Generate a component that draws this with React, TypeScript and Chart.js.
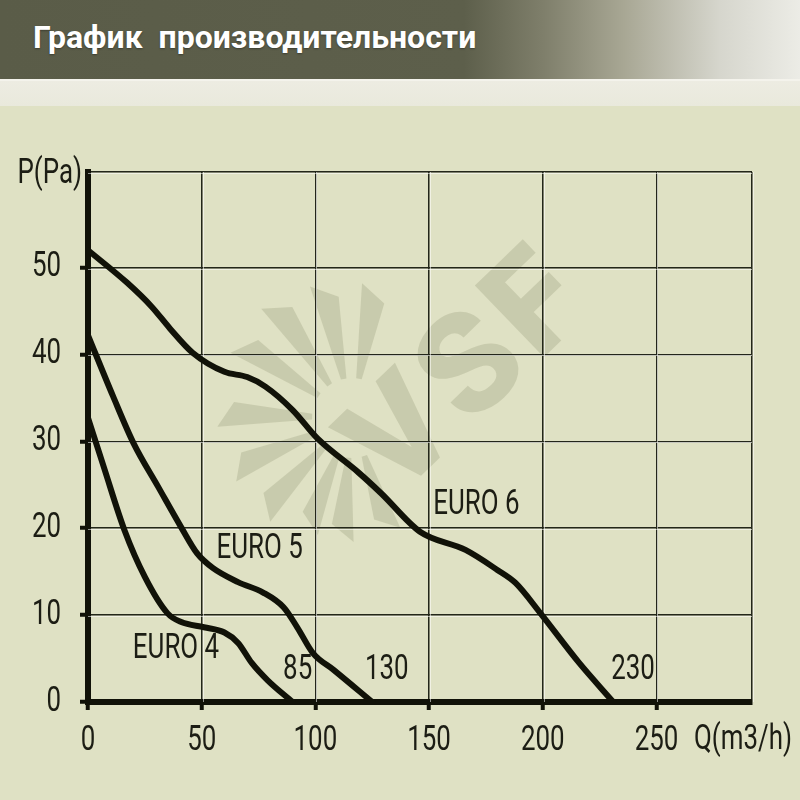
import React, { useEffect, useRef } from "react";
import { Chart, registerables } from "chart.js";

Chart.register(...registerables);

// ---- data ----
const xTicks = [0, 50, 100, 150, 200, 250];
const yTicks = [0, 10, 20, 30, 40, 50];
const X_MAX = 292;
const Y_MAX = 61;

const euro6Q = [0, 17, 28, 36, 46, 60, 70, 78, 90, 101, 119, 129, 146, 166, 180, 188, 199, 216, 231];
const euro6P = [52, 48.3, 45.5, 43, 40.2, 38, 37.4, 36.3, 33.6, 30.3, 26.4, 24, 19.6, 17.5, 15.2, 13.7, 10.2, 4.5, 0];

const euro5Q = [0, 11, 20, 31, 41, 48, 55, 66, 77, 86, 92, 99, 108, 125];
const euro5P = [42.2, 35.2, 29.8, 24.7, 20.1, 17.1, 15.4, 13.8, 12.6, 10.9, 8.6, 5.6, 3.7, 0];

const euro4Q = [0, 7, 16, 25, 35, 41, 51, 60, 66, 72, 79, 90];
const euro4P = [32.7, 27, 19.8, 14.4, 10.2, 9.2, 8.6, 8.0, 6.8, 4.5, 2.5, 0];

const curveLabelText = ["EURO 4", "EURO 5", "EURO 6", "85", "130", "230"];
const curveLabelQ = [38.7, 75.5, 170.8, 92.2, 131.4, 239.7];
const curveLabelP = [6.1, 17.6, 22.6, 3.7, 3.6, 3.7];

const TITLE = "График  производительности";
const Y_TITLE = "P(Pa)";
const X_TITLE = "Q(m3/h)";
const WATERMARK = "VSF";

// ---- style ----
const FONT = "Roboto, 'Noto Sans', sans-serif";
const FONT_SIZE = 35;
const SQUEEZE = 0.74;
const BG = "#dfe1c4";
const TEXT = "#1c1d14";
const AXIS = "#111208";
const GRID = "#23261a";
const WM = "rgba(150,152,118,0.30)";

const toPts = (qs: number[], ps: number[]) => qs.map((q, i) => ({ x: q, y: ps[i] }));

function drawNarrow(ctx: CanvasRenderingContext2D, text: string, x: number, y: number, align: CanvasTextAlign) {
  ctx.save();
  ctx.translate(x, y);
  ctx.scale(SQUEEZE, 1);
  ctx.textAlign = align;
  ctx.textBaseline = "middle";
  ctx.fillText(text, 0, 0);
  ctx.restore();
}

const watermarkPlugin = {
  id: "watermark",
  beforeDraw(chart: any) {
    const { ctx } = chart;
    ctx.save();
    ctx.fillStyle = WM;
    // fan of rays
    const cx = 352;
    const cy = 418;
    const rays = [
      [-80, 135], [-102, 138], [-124, 142], [-146, 138], [-178, 135],
      [157, 132], [134, 132], [112, 122], [95, 124], [72, 120],
    ];
    rays.forEach(([deg, len]) => {
      const a = (deg * Math.PI) / 180;
      const r0 = 40;
      const w0 = 0.07;
      const w1 = 0.1;
      ctx.beginPath();
      ctx.moveTo(cx + r0 * Math.cos(a - w0), cy + r0 * Math.sin(a - w0));
      ctx.lineTo(cx + len * Math.cos(a - w1), cy + len * Math.sin(a - w1));
      ctx.lineTo(cx + (len - 16) * Math.cos(a + w1), cy + (len - 16) * Math.sin(a + w1));
      ctx.lineTo(cx + r0 * Math.cos(a + w0), cy + r0 * Math.sin(a + w0));
      ctx.closePath();
      ctx.fill();
    });
    // letters
    ctx.translate(474, 376);
    ctx.rotate((-44 * Math.PI) / 180);
    ctx.font = `900 140px Roboto, sans-serif`;
    (ctx as any).letterSpacing = "8px";
    ctx.textAlign = "center";
    ctx.textBaseline = "middle";
    ctx.fillText(WATERMARK, 0, 0);
    ctx.restore();
  },
};

const highlightPlugin = {
  id: "gridHighlight",
  beforeDatasetsDraw(chart: any) {
    const { ctx, chartArea, scales } = chart;
    const xs = scales.x;
    const ys = scales.y;
    ctx.save();
    ctx.strokeStyle = "rgba(255,255,255,0.55)";
    ctx.lineWidth = 1;
    [...yTicks.slice(1), Y_MAX].forEach((v) => {
      const py = Math.round(ys.getPixelForValue(v)) + 1.5;
      ctx.beginPath();
      ctx.moveTo(chartArea.left, py);
      ctx.lineTo(chartArea.right, py);
      ctx.stroke();
    });
    [...xTicks.slice(1), X_MAX].forEach((v) => {
      const px = Math.round(xs.getPixelForValue(v)) + 1.5;
      ctx.beginPath();
      ctx.moveTo(px, chartArea.top);
      ctx.lineTo(px, chartArea.bottom);
      ctx.stroke();
    });
    ctx.restore();
  },
};

const labelPlugin = {
  id: "narrowLabels",
  afterDraw(chart: any) {
    const { ctx, scales } = chart;
    const xs = scales.x;
    const ys = scales.y;
    ctx.save();
    ctx.fillStyle = TEXT;
    ctx.font = `${FONT_SIZE}px ${FONT}`;
    // tick labels
    xTicks.forEach((v) => drawNarrow(ctx, String(v), xs.getPixelForValue(v), ys.bottom + 39, "center"));
    yTicks.forEach((v) => drawNarrow(ctx, String(v), xs.left - 27, ys.getPixelForValue(v), "right"));
    // curve labels
    curveLabelText.forEach((t, i) => {
      drawNarrow(ctx, t, xs.getPixelForValue(curveLabelQ[i]), ys.getPixelForValue(curveLabelP[i]), "center");
    });
    // axis titles
    drawNarrow(ctx, Y_TITLE, xs.left - 6, ys.top + 2, "right");
    drawNarrow(ctx, X_TITLE, xs.right - 58, ys.bottom + 38, "left");
    ctx.restore();
  },
};

export default function App() {
  const ref = useRef<HTMLCanvasElement | null>(null);

  useEffect(() => {
    if (!ref.current) return;
    const line = (pts: any[]) => ({
      data: pts,
      borderColor: AXIS,
      borderWidth: 6,
      pointRadius: 0,
      fill: false,
      cubicInterpolationMode: "monotone" as const,
      borderCapStyle: "round" as const,
      borderJoinStyle: "round" as const,
    });
    const chart = new Chart(ref.current, {
      type: "line",
      data: {
        datasets: [
          { label: "EURO 4", ...line(toPts(euro4Q, euro4P)) },
          { label: "EURO 5", ...line(toPts(euro5Q, euro5P)) },
          { label: "EURO 6", ...line(toPts(euro6Q, euro6P)) },
        ],
      },
      options: {
        responsive: false,
        animation: false,
        layout: { padding: { top: 172, right: 48, left: 0, bottom: 0 } },
        plugins: { legend: { display: false }, tooltip: { enabled: false }, title: { display: false } },
        scales: {
          x: {
            type: "linear",
            min: 0,
            max: X_MAX,
            afterBuildTicks: (s: any) => {
              s.ticks = [...xTicks, X_MAX].map((v) => ({ value: v }));
            },
            afterFit: (s: any) => {
              s.height = 98;
              s.paddingLeft = 0;
              s.paddingRight = 0;
            },
            ticks: { display: false, autoSkip: false },
            grid: {
              color: GRID,
              lineWidth: 1.5,
              drawTicks: true,
              tickLength: 8,
              tickWidth: 4,
              tickColor: (c: any) => (c.tick && c.tick.value === X_MAX ? "rgba(0,0,0,0)" : AXIS),
            },
            border: { color: AXIS, width: 6 },
          },
          y: {
            type: "linear",
            min: 0,
            max: Y_MAX,
            afterBuildTicks: (s: any) => {
              s.ticks = [...yTicks, Y_MAX].map((v) => ({ value: v }));
            },
            afterFit: (s: any) => {
              s.width = 88;
              s.paddingTop = 0;
              s.paddingBottom = 0;
            },
            ticks: { display: false, autoSkip: false },
            grid: {
              color: GRID,
              lineWidth: 1.5,
              drawTicks: true,
              tickLength: 8,
              tickWidth: 4,
              tickColor: (c: any) => (c.tick && c.tick.value === Y_MAX ? "rgba(0,0,0,0)" : AXIS),
            },
            border: { color: AXIS, width: 6 },
          },
        },
      },
      plugins: [watermarkPlugin, highlightPlugin, labelPlugin],
    } as any);
    return () => chart.destroy();
  }, []);

  return (
    <div style={{ position: "fixed", left: 0, top: 0, width: 800, height: 800, background: BG, overflow: "hidden" }}>
      <div
        style={{
          position: "absolute",
          left: 0,
          top: 0,
          width: 800,
          height: 79,
          background:
            "linear-gradient(to right, #5a5c48 0%, #5d5f4b 58%, #7f7f6b 68%, #a8a794 78%, #d6d6cd 90%, #ecece6 100%)",
        }}
      />
      <div style={{ position: "absolute", left: 0, top: 79, width: 800, height: 2, background: "#f4f3ec" }} />
      <div
        style={{
          position: "absolute",
          left: 0,
          top: 81,
          width: 800,
          height: 25,
          background: "linear-gradient(to bottom, #edece2, #e9e9dc)",
        }}
      />
      <div
        style={{
          position: "absolute",
          left: 33,
          top: 14,
          color: "#ffffff",
          fontFamily: "Roboto, sans-serif",
          fontWeight: 700,
          fontSize: 32,
          lineHeight: "46px",
          whiteSpace: "pre",
          textShadow: "0 1px 2px rgba(0,0,0,0.35)",
        }}
      >
        {TITLE}
      </div>
      <canvas ref={ref} width={800} height={800} style={{ position: "absolute", left: 0, top: 0 }} />
    </div>
  );
}
